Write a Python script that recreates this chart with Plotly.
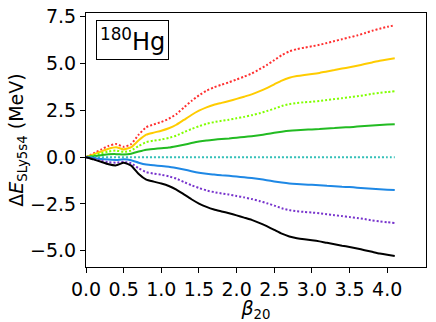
import plotly.graph_objects as go

beta = [round(0.1 * i, 1) for i in range(42)]

red_dot = [0, 0.2, 0.4, 0.6, 0.7, 0.55, 0.7, 1.2, 1.6, 1.75, 1.88, 2.05, 2.3, 2.65,
           3.0, 3.3, 3.55, 3.73, 3.87, 4.0, 4.15, 4.3, 4.47, 4.68, 4.92, 5.18, 5.45,
           5.65, 5.77, 5.85, 5.92, 6.0, 6.1, 6.2, 6.3, 6.4, 6.5, 6.62, 6.75, 6.86, 6.96, 7.04]
gold = [0, 0.15, 0.3, 0.45, 0.53, 0.41, 0.53, 0.9, 1.2, 1.31, 1.41, 1.54, 1.73, 1.99,
        2.25, 2.48, 2.66, 2.8, 2.9, 3.0, 3.11, 3.23, 3.35, 3.51, 3.69, 3.89, 4.09,
        4.24, 4.33, 4.39, 4.44, 4.5, 4.58, 4.65, 4.73, 4.8, 4.88, 4.97, 5.06, 5.15, 5.22, 5.28]
lime_dot = [0, 0.1, 0.2, 0.3, 0.35, 0.28, 0.35, 0.6, 0.8, 0.88, 0.94, 1.03, 1.15, 1.33,
            1.5, 1.65, 1.78, 1.87, 1.94, 2.0, 2.08, 2.15, 2.24, 2.34, 2.46, 2.59, 2.73,
            2.83, 2.89, 2.93, 2.96, 3.0, 3.05, 3.1, 3.15, 3.2, 3.25, 3.31, 3.38, 3.43, 3.48, 3.52]
green = [0, 0.05, 0.1, 0.15, 0.16, 0.14, 0.18, 0.3, 0.4, 0.44, 0.47, 0.51, 0.58, 0.66,
         0.75, 0.83, 0.89, 0.93, 0.97, 1.0, 1.04, 1.08, 1.12, 1.17, 1.23, 1.3, 1.36,
         1.41, 1.44, 1.46, 1.48, 1.5, 1.53, 1.55, 1.58, 1.6, 1.63, 1.66, 1.69, 1.72, 1.74, 1.76]
teal_dot = [0] * 42
blue = [0, -0.05, -0.1, -0.13, -0.15, -0.12, -0.17, -0.3, -0.4, -0.44, -0.47, -0.51, -0.58, -0.66,
        -0.75, -0.83, -0.89, -0.93, -0.97, -1.0, -1.04, -1.08, -1.12, -1.17, -1.23, -1.3, -1.36,
        -1.41, -1.44, -1.46, -1.48, -1.5, -1.53, -1.55, -1.58, -1.6, -1.63, -1.66, -1.69, -1.72, -1.74, -1.76]
purple_dot = [0, -0.1, -0.2, -0.27, -0.3, -0.25, -0.33, -0.6, -0.8, -0.88, -0.94, -1.03, -1.15, -1.33,
              -1.5, -1.65, -1.78, -1.87, -1.94, -2.0, -2.08, -2.15, -2.24, -2.34, -2.46, -2.59, -2.73,
              -2.83, -2.89, -2.93, -2.96, -3.0, -3.05, -3.1, -3.15, -3.2, -3.25, -3.31, -3.38, -3.43, -3.48, -3.52]
black = [0, -0.12, -0.25, -0.38, -0.44, -0.3, -0.45, -0.9, -1.2, -1.31, -1.41, -1.54, -1.73, -1.99,
         -2.25, -2.48, -2.66, -2.8, -2.9, -3.0, -3.11, -3.23, -3.35, -3.51, -3.69, -3.89, -4.09,
         -4.24, -4.33, -4.39, -4.44, -4.5, -4.58, -4.65, -4.73, -4.8, -4.88, -4.97, -5.06, -5.15, -5.22, -5.28]

series = [
    (red_dot, '#ff3030', '2px,2px'),
    (gold, '#ffcc00', 'solid'),
    (lime_dot, '#80ff00', '2px,2px'),
    (green, '#22bb22', 'solid'),
    (teal_dot, '#33c0b8', '2px,2px'),
    (blue, '#1e88e5', 'solid'),
    (purple_dot, '#7733cc', '2px,2px'),
    (black, '#000000', 'solid'),
]

fig = go.Figure()
for ys, col, dash in series:
    fig.add_trace(go.Scatter(x=beta, y=ys, mode='lines',
                             line=dict(color=col, width=2, dash=dash, shape='spline', smoothing=0.5),
                             showlegend=False))

axis_style = dict(showline=True, linecolor='black', linewidth=1, mirror=True,
                  ticks='outside', ticklen=5, tickcolor='black', showgrid=False,
                  zeroline=False, tickfont=dict(size=19, color='black'))

fig.update_layout(
    width=436, height=322,
    margin=dict(l=86, r=10, t=13, b=55),
    plot_bgcolor='white', paper_bgcolor='white',
    font=dict(family='DejaVu Sans', color='black'),
    xaxis=dict(range=[0, 4.515], tickvals=[0, 0.5, 1, 1.5, 2, 2.5, 3, 3.5, 4],
               ticktext=['0.0', '0.5', '1.0', '1.5', '2.0', '2.5', '3.0', '3.5', '4.0'],
               title=dict(text='<i>β</i><sub>20</sub>', font=dict(size=19), standoff=3),
               automargin=False, **axis_style),
    yaxis=dict(range=[-5.87, 7.7], tickvals=[-5, -2.5, 0, 2.5, 5, 7.5],
               tickformat='.1f',
               title=dict(text='Δ<i>E</i><sub>SLy5s4</sub> (MeV)', font=dict(size=19), standoff=0),
               automargin=False, **axis_style),
)

fig.add_annotation(xref='paper', yref='paper', x=0.029, y=0.972,
                   xanchor='left', yanchor='top', showarrow=False,
                   text='<sup>180</sup>Hg', font=dict(size=24, color='black'),
                   bordercolor='black', borderwidth=1, borderpad=3, bgcolor='white')

# drop the default 8px body margin so the figure fills the window
fig.write_html("out.html", config={'displayModeBar': False},
               post_script="document.body.style.margin='0';")
